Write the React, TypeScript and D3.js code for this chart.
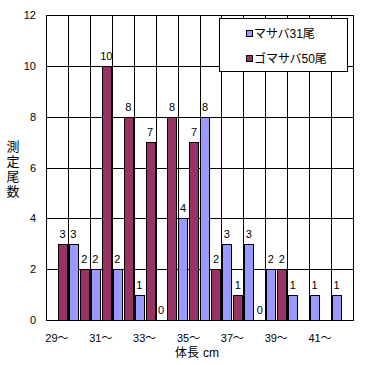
import React from "react";
import * as d3 from "d3";

const categories = ["29", "30", "31", "32", "33", "34", "35", "36", "37", "38", "39", "40", "41", "42"];
const tickLabels = ["29～", "", "31～", "", "33～", "", "35～", "", "37～", "", "39～", "", "41～", ""];
const masaba: (number | null)[] = [null, 3, 2, 2, 1, 0, 4, 8, 3, 3, 2, 1, 1, 1];
const gomasaba: (number | null)[] = [3, 2, 10, 8, 7, 8, 7, 2, 1, 0, 2, null, null, null];
const seriesNames = ["マサバ31尾", "ゴマサバ50尾"];
const seriesColors = ["#9999FF", "#993366"];
const yTicks = [0, 2, 4, 6, 8, 10, 12];

const W = 371, H = 365;
const M = { left: 46, right: 353, top: 15, bottom: 320 };
const FONT = "'Liberation Sans', 'Noto Sans CJK JP', sans-serif";

export default function App() {
  const x = d3.scaleBand<string>().domain(categories).range([M.left, M.right]).padding(0);
  const xs = d3.scaleBand<string>().domain(["0", "1"]).range([0, x.bandwidth()]).paddingInner(0.16).paddingOuter(0.08);
  const y = d3.scaleLinear().domain([0, 12]).range([M.bottom, M.top]);
  const series = [masaba, gomasaba];
  const crisp = (v: number) => Math.round(v) + 0.5;

  return (
    <svg width={W} height={H} style={{ position: "absolute", left: 0, top: 0, background: "#fff" }} fontFamily={FONT}>
      <rect x={0} y={0} width={W} height={H} fill="#fff" />
      {yTicks.map((t) => (
        <line key={"h" + t} x1={M.left} x2={M.right} y1={crisp(y(t))} y2={crisp(y(t))} stroke="#000" strokeWidth={1} shapeRendering="crispEdges" />
      ))}
      {categories.map((c) => (
        <line key={"v" + c} x1={crisp(x(c)!)} x2={crisp(x(c)!)} y1={M.top} y2={M.bottom} stroke="#000" strokeWidth={1} shapeRendering="crispEdges" />
      ))}
      <rect x={crisp(M.left)} y={crisp(M.top)} width={Math.round(M.right - M.left)} height={Math.round(M.bottom - M.top)} fill="none" stroke="#000" shapeRendering="crispEdges" />
      {series.map((s, si) =>
        s.map((v, i) => {
          if (v === null) return null;
          const bx = x(categories[i])! + xs(String(si))!;
          const bw = xs.bandwidth();
          const top = y(v);
          return (
            <g key={`b${si}-${i}`}>
              {v > 0 && (
                <rect x={crisp(bx)} y={crisp(top)} width={Math.round(bw)} height={Math.round(y(0) - top)} fill={seriesColors[si]} stroke="#000" strokeWidth={1} shapeRendering="crispEdges" />
              )}
              <text x={bx + bw / 2} y={top - 6} textAnchor="middle" fontSize={11} fill="#000">{v}</text>
            </g>
          );
        })
      )}
      {yTicks.map((t) => (
        <text key={"yt" + t} x={36} y={y(t) + 4} textAnchor="end" fontSize={11} fill="#000">{t}</text>
      ))}
      {categories.map((c, i) =>
        tickLabels[i] ? (
          <text key={"xt" + c} x={x(c)! + x.bandwidth() / 2} y={342} textAnchor="middle" fontSize={11} fill="#000">{tickLabels[i]}</text>
        ) : null
      )}
      {"測定尾数".split("").map((ch, i) => (
        <text key={"yl" + i} x={13} y={151 + i * 15} textAnchor="middle" fontSize={13} fill="#000">{ch}</text>
      ))}
      <text x={175} y={357} fontSize={12} fill="#000">体長</text>
      <text x={203} y={357} fontSize={12} fill="#000">cm</text>
      <rect x={219.5} y={18.5} width={128} height={53} fill="#fff" stroke="#000" shapeRendering="crispEdges" />
      {seriesNames.map((n, i) => (
        <g key={"lg" + i}>
          <rect x={246.5} y={30.5 + i * 25} width={6} height={6} fill={seriesColors[i]} stroke="#000" shapeRendering="crispEdges" />
          <text x={254} y={38 + i * 25} fontSize={12} fill="#000">{n}</text>
        </g>
      ))}
    </svg>
  );
}
